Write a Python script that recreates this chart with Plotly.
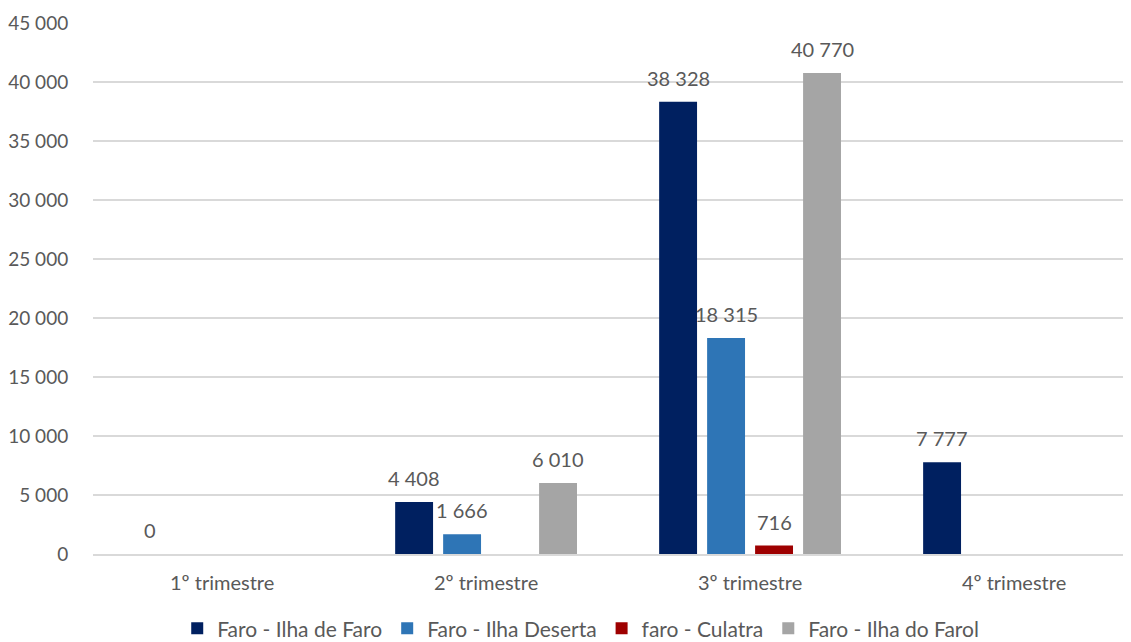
import plotly.graph_objects as go

categories = ["1º trimestre", "2º trimestre", "3º trimestre", "4º trimestre"]
series_names = ["Faro - Ilha de Faro", "Faro - Ilha Deserta", "faro - Culatra", "Faro - Ilha do Farol"]
ilha_de_faro = [0, 4408, 38328, 7777]
ilha_deserta = [None, 1666, 18315, None]
culatra = [None, None, 716, None]
ilha_do_farol = [None, 6010, 40770, None]
y_ticks = [0, 5000, 10000, 15000, 20000, 25000, 30000, 35000, 40000, 45000]

series_values = [ilha_de_faro, ilha_deserta, culatra, ilha_do_farol]
colors = ["#002060", "#2E75B6", "#9E0000", "#A5A5A5"]

FONT = "Lato"
TXT = "#595959"

fig = go.Figure()
for name, vals, col in zip(series_names, series_values, colors):
    fig.add_trace(go.Bar(
        name=name, x=categories, y=vals, marker=dict(color=col, line=dict(width=0)),
    ))

slot_px = 48
n = len(series_values)
for i, vals in enumerate(series_values):
    for cat, v in zip(categories, vals):
        if v is None:
            continue
        fig.add_annotation(
            x=cat, y=v, xref="x", yref="y",
            text=f"{v:,}".replace(",", " "),
            showarrow=False, xanchor="center", yanchor="bottom",
            xshift=(i - (n - 1) / 2) * slot_px, yshift=10,
            font=dict(family=FONT, size=20, color=TXT),
        )

# page body has an 8px default margin, so the figure is sized/offset to compensate
fig.update_layout(
    width=1123, height=634,
    margin=dict(l=85, r=0, t=15, b=88, autoexpand=False),
    paper_bgcolor="white", plot_bgcolor="white",
    barmode="group", bargap=0.273, bargroupgap=0.21,
    separators=", ",
    font=dict(family=FONT, size=19, color=TXT),
    showlegend=True,
    legend=dict(
        orientation="h", xref="container", yref="container",
        x=0.510, xanchor="center", y=0.021, yanchor="middle",
        font=dict(family=FONT, size=21, color=TXT),
        itemwidth=30, traceorder="normal",
    ),
    xaxis=dict(
        type="category", range=[-0.489, 3.443], automargin=False,
        showgrid=False, showline=True, linecolor="#D9D9D9", linewidth=1.5,
        ticks="outside", ticklen=10, tickcolor="rgba(0,0,0,0)",
        tickfont=dict(family=FONT, size=20, color=TXT),
        zeroline=False,
    ),
    yaxis=dict(
        range=[0, 45000], tickvals=y_ticks, tickformat=",d", automargin=False,
        showgrid=True, gridcolor="#D9D9D9", gridwidth=1.5,
        zeroline=False, showline=False,
        ticks="outside", ticklen=20, tickcolor="rgba(0,0,0,0)",
        tickfont=dict(family=FONT, size=19, color=TXT),
    ),
)

fig.write_html("out.html")
